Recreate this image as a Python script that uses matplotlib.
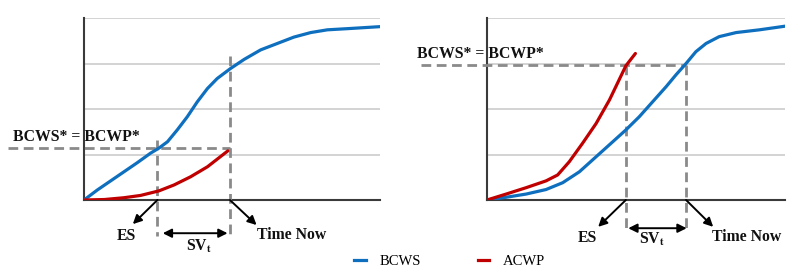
import matplotlib.pyplot as plt
from matplotlib.lines import Line2D

plt.rcParams["font.family"] = ["Liberation Serif", "DejaVu Serif"]
plt.rcParams["mathtext.fontset"] = "stix"

BLUE = "#0F6FBF"
RED = "#C00000"
GRAY = "#8A8A8A"

# Left panel: behind schedule (grid units 0-4)
left_x_bcws = [0, 4.5, 9.0, 13.5, 18.0, 22.5, 25.3, 28.2, 31.5, 34.9, 38.3, 41.7,
               45.0, 49.5, 54.1, 59.7, 65.3, 70.9, 76.6, 82.2, 90.1, 100]
left_bcws = [0, 0.22, 0.42, 0.62, 0.82, 1.03, 1.14, 1.28, 1.54, 1.83, 2.16, 2.45,
             2.67, 2.89, 3.09, 3.30, 3.44, 3.58, 3.68, 3.74, 3.77, 3.81]
left_x_acwp = [0, 6.8, 13.5, 19.1, 25.3, 30.4, 36.0, 41.7, 48.6]
left_acwp = [0, 0.01, 0.05, 0.10, 0.20, 0.33, 0.51, 0.73, 1.08]
left_es, left_now, left_level = 24.8, 49.3, 1.14

# Right panel: ahead of schedule
right_x_bcws = [0, 6.4, 13.1, 19.8, 25.4, 31.0, 36.6, 42.2, 46.6, 51.1, 55.6, 60.1,
                63.4, 66.8, 70.1, 73.5, 77.9, 83.6, 91.4, 100]
right_bcws = [0, 0.06, 0.13, 0.23, 0.38, 0.62, 0.95, 1.28, 1.54, 1.83, 2.16, 2.49,
              2.75, 3.00, 3.26, 3.44, 3.59, 3.68, 3.74, 3.82]
right_x_acwp = [0, 6.4, 13.1, 19.8, 23.7, 27.6, 32.1, 36.6, 41.1, 46.6, 49.8]
right_acwp = [0, 0.13, 0.27, 0.42, 0.55, 0.84, 1.25, 1.68, 2.20, 2.95, 3.22]
right_es, right_now, right_level = 46.6, 66.8, 2.97

series_labels = ["BCWS", "ACWP"]
level_label = "BCWS* = BCWP*"

bold = dict(fontweight="bold", fontsize=11.3, color="#111111")


def draw_panel(ax, xb, yb, xa, ya, es, now, level, cfg):
    ax.set_xlim(0, 100)
    ax.set_ylim(0, 4)
    for g in [1, 2, 3, 4]:
        ax.axhline(g, color="#c8c8c8", lw=1.1, zorder=1)
    for s in ["top", "right"]:
        ax.spines[s].set_visible(False)
    for s in ["left", "bottom"]:
        ax.spines[s].set_color("#3a3a3a")
        ax.spines[s].set_linewidth(1.5)
    ax.set_xticks([])
    ax.set_yticks([])

    ax.plot(xb, yb, color=BLUE, lw=2.3, zorder=4, solid_capstyle="round",
            solid_joinstyle="round")
    ax.plot(xa, ya, color=RED, lw=2.3, zorder=4, solid_capstyle="round",
            solid_joinstyle="round")

    dash = dict(color=GRAY, lw=2.0, ls=(0, (3.5, 2)), clip_on=False, zorder=3)
    ax.plot([cfg["hstart"], now], [level, level], **dash)
    ax.plot([es, es], [cfg["es_top"], cfg["vbottom"]], **dash)
    ax.plot([now, now], [cfg["now_top"], cfg["vbottom"]], **dash)

    arr = dict(arrowstyle="-|>", color="black", lw=1.4, mutation_scale=13,
               shrinkA=0, shrinkB=0)
    ax.annotate("", xy=cfg["es_head"], xytext=(es, 0), arrowprops=arr,
                annotation_clip=False)
    ax.annotate("", xy=cfg["now_head"], xytext=(now, 0), arrowprops=arr,
                annotation_clip=False)
    darr = dict(arrowstyle="<|-|>", color="black", lw=1.4, mutation_scale=13,
                shrinkA=0, shrinkB=0)
    ax.annotate("", xy=(cfg["sv_x"][0], cfg["sv_y"]), xytext=(cfg["sv_x"][1], cfg["sv_y"]),
                arrowprops=darr, annotation_clip=False)

    ax.text(*cfg["es_txt"], "ES", ha="center", va="center", clip_on=False, **bold)
    ax.text(*cfg["now_txt"], "Time Now", ha="center", va="center", clip_on=False, **bold)
    ax.text(*cfg["sv_txt"], r"SV$_{\mathbf{t}}$", ha="center", va="center",
            clip_on=False, **bold)
    ax.text(*cfg["lvl_txt"], level_label, ha="center", va="center", clip_on=False, **bold)


fig = plt.figure(figsize=(8, 2.72), dpi=100)
ax1 = fig.add_axes([84 / 800, 72 / 272, 296 / 800, 182 / 272])
ax2 = fig.add_axes([487 / 800, 72 / 272, 298 / 800, 182 / 272])

draw_panel(ax1, left_x_bcws, left_bcws, left_x_acwp, left_acwp,
           left_es, left_now, left_level,
           dict(hstart=-25.7, es_top=1.32, now_top=3.16, vbottom=-0.8,
                es_head=(16.5, -0.53), now_head=(58.3, -0.55),
                sv_x=(26.6, 48.5), sv_y=-0.73,
                es_txt=(14.2, -0.79), now_txt=(70.2, -0.78), sv_txt=(38.9, -1.03),
                lvl_txt=(-2.5, 1.39)))

draw_panel(ax2, right_x_bcws, right_bcws, right_x_acwp, right_acwp,
           right_es, right_now, right_level,
           dict(hstart=-22.1, es_top=right_level, now_top=right_level, vbottom=-0.62,
                es_head=(37.3, -0.59), now_head=(75.9, -0.59),
                sv_x=(47.4, 67.0), sv_y=-0.62,
                es_txt=(33.8, -0.84), now_txt=(87.1, -0.81), sv_txt=(55.3, -0.86),
                lvl_txt=(-2.2, 3.21)))

handles = [Line2D([], [], color=BLUE, lw=2.3), Line2D([], [], color=RED, lw=2.3)]
fig.legend(handles, series_labels, loc="center", bbox_to_anchor=(0.562, 0.038),
           ncol=2, frameon=False, handlelength=0.8, handletextpad=0.9,
           columnspacing=3.9, prop=dict(family="Liberation Serif", size=10.5))

fig.savefig("out.png", dpi=100, facecolor="white")
